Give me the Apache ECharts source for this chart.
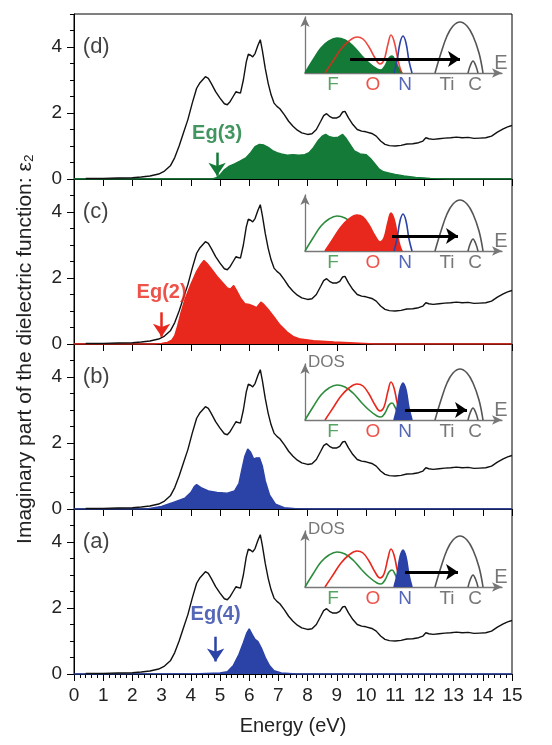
<!DOCTYPE html>
<html><head><meta charset="utf-8">
<script src="https://cdn.jsdelivr.net/npm/echarts@6/dist/echarts.min.js"></script>
<style>html,body{margin:0;padding:0;background:#fff}#c{width:552px;height:745px}</style>
</head><body><div id="c"></div>
<script>
// ---------- data ----------
const energyRange = [0, 15];
const yTickLabels = [0, 2, 4];
// total epsilon_2 (black curve, identical in every panel)
const totalEps2 = [[0.4,0.02],[1.0,0.02],[1.5,0.03],[2.0,0.04],[2.3,0.06],[2.6,0.09],[2.9,0.15],[3.1,0.24],[3.3,0.4],[3.45,0.65],[3.6,1.0],[3.75,1.4],[3.9,1.8],[4.05,2.3],[4.2,2.75],[4.3,2.9],[4.4,3.0],[4.5,3.1],[4.6,3.05],[4.7,2.9],[4.85,2.65],[5.0,2.45],[5.15,2.28],[5.25,2.25],[5.35,2.35],[5.45,2.5],[5.55,2.65],[5.62,2.62],[5.7,2.6],[5.8,3.0],[5.9,3.55],[5.97,3.78],[6.05,3.75],[6.12,3.7],[6.2,3.8],[6.3,4.05],[6.38,4.22],[6.45,3.9],[6.55,3.35],[6.65,2.9],[6.75,2.55],[6.85,2.3],[6.95,2.2],[7.05,2.13],[7.2,1.95],[7.35,1.75],[7.5,1.6],[7.65,1.48],[7.8,1.4],[8.0,1.35],[8.15,1.37],[8.3,1.5],[8.45,1.75],[8.55,1.92],[8.65,1.98],[8.75,1.9],[8.85,1.85],[9.0,1.85],[9.1,1.9],[9.2,2.03],[9.28,2.05],[9.4,1.85],[9.55,1.65],[9.7,1.5],[9.85,1.45],[10.0,1.43],[10.2,1.38],[10.35,1.3],[10.5,1.15],[10.65,1.05],[10.8,1.01],[11.0,1.0],[11.2,1.02],[11.4,1.06],[11.6,1.07],[11.8,1.1],[11.95,1.15],[12.05,1.25],[12.15,1.22],[12.3,1.2],[12.5,1.22],[12.7,1.24],[12.9,1.25],[13.1,1.27],[13.3,1.25],[13.5,1.26],[13.7,1.23],[13.9,1.24],[14.1,1.25],[14.3,1.3],[14.5,1.42],[14.7,1.52],[14.85,1.58],[15.0,1.62]];
// partial contributions (filled areas)
const partialD = [[0,0],[4.75,0],[4.85,0.03],[5.0,0.12],[5.15,0.28],[5.3,0.38],[5.5,0.46],[5.7,0.55],[5.9,0.65],[6.05,0.8],[6.2,0.98],[6.35,1.05],[6.5,1.03],[6.65,0.96],[6.8,0.86],[6.95,0.8],[7.1,0.76],[7.3,0.72],[7.5,0.74],[7.7,0.72],[7.9,0.74],[8.05,0.8],[8.2,0.95],[8.35,1.15],[8.5,1.3],[8.62,1.35],[8.75,1.28],[8.9,1.25],[9.05,1.27],[9.2,1.35],[9.3,1.25],[9.45,1.05],[9.6,0.85],[9.8,0.76],[10.0,0.74],[10.15,0.62],[10.3,0.46],[10.45,0.3],[10.6,0.22],[10.8,0.18],[11.0,0.14],[11.3,0.09],[11.7,0.05],[12.2,0.02],[12.8,0],[15,0]];
const partialC = [[0,0],[2.7,0],[3.0,0.02],[3.2,0.05],[3.35,0.12],[3.45,0.25],[3.55,0.55],[3.65,0.9],[3.8,1.35],[4.0,1.8],[4.2,2.2],[4.35,2.42],[4.45,2.53],[4.55,2.45],[4.7,2.28],[4.9,2.05],[5.1,1.85],[5.25,1.7],[5.35,1.66],[5.47,1.77],[5.55,1.65],[5.7,1.4],[5.85,1.22],[6.0,1.2],[6.15,1.15],[6.25,1.1],[6.4,1.27],[6.5,1.2],[6.65,1.05],[6.85,0.82],[7.05,0.58],[7.3,0.36],[7.5,0.23],[7.75,0.15],[8.2,0.1],[8.9,0.06],[9.6,0.03],[10.3,0],[15,0]];
const partialB = [[0,0],[2.5,0],[3.0,0.08],[3.4,0.2],[3.8,0.33],[4.0,0.5],[4.12,0.68],[4.2,0.74],[4.35,0.65],[4.6,0.55],[4.9,0.5],[5.25,0.48],[5.5,0.55],[5.65,0.78],[5.75,1.2],[5.85,1.6],[5.95,1.82],[6.05,1.72],[6.15,1.52],[6.25,1.55],[6.35,1.55],[6.45,1.3],[6.55,0.85],[6.7,0.42],[6.9,0.15],[7.2,0.04],[7.6,0.01],[8.2,0],[15,0]];
const partialA = [[0,0],[4.3,0.01],[5.0,0.03],[5.25,0.07],[5.45,0.25],[5.65,0.6],[5.8,0.95],[5.92,1.25],[6.0,1.37],[6.1,1.2],[6.2,1.05],[6.3,0.98],[6.42,0.78],[6.55,0.5],[6.7,0.25],[6.85,0.1],[7.1,0.03],[7.6,0],[15,0]];
const panelNames = ['(d)', '(c)', '(b)', '(a)'];
const gapNames = ['Eg(3)', 'Eg(2)', null, 'Eg(4)'];
const gapEnergy = [4.9, 3.0, null, 4.85];
const gapTextY = [1.37, 1.55, null, 1.79];
const gapArrowY = [[0.8, 0.1], [0.96, 0.22], null, [1.13, 0.38]];
// schematic DOS insets (arbitrary units)
const dosF = [[0,0],[8,13],[16,25],[24,32],[32,35],[40,33],[48,27],[56,18],[64,10],[72,4],[76,3],[80,7],[84,15],[87,17],[90,13],[94,4],[97,0]];
const dosO = [[20,0],[28,12],[36,24],[44,32],[52,36],[58,34],[64,26],[70,15],[75,9],[79,13],[83,29],[86,38],[89,32],[92,18],[95,5],[97,0]];
const dosN = [[89,0],[92,12],[95,30],[98,37],[101,30],[104,12],[107,0]];
const dosTi = [[130,0],[136,20],[142,37],[148,47],[155,51],[162,47],[168,37],[174,20],[178,0]];
const dosC = [[163,0],[165.5,8],[168,12],[170.5,8],[173,0]];
const dosLabels = ['F', 'O', 'N', 'Ti', 'C'];
const dosLabelX = [28, 68, 100, 142, 170];
const excitationArrows = [[45,155,14],[87,153,15],[100,162,10],[100,153,15]];
const filledState = ['F', 'O', 'N', 'N'];
const showDOS = [false, false, true, true];

// ---------- styling / layout ----------
const FONT = 'Liberation Sans, Arial, sans-serif';
const GREEN = '#137a37', RED = '#e8281c', BLUE = '#2b42a6', GRAY = '#555';
const LGREEN = '#2d8c3c';
const partials = [partialD, partialC, partialB, partialA];
const fillColors = [GREEN, RED, BLUE, BLUE];
const panelTops = [14, 179, 344, 509];
const PH = 165;
const insetBase = [73, 251, 420, 587];
const IH = 56;

const grid = [], xAxis = [], yAxis = [], series = [];
for (let p = 0; p < 4; p++) {
  grid.push({left: 74, right: 40, top: panelTops[p], height: PH, show: true, borderColor: '#000', borderWidth: 1, backgroundColor: 'transparent'});
}
for (let p = 0; p < 4; p++) {
  grid.push({left: 305, width: 197, top: insetBase[p] - IH, height: IH});
}
for (let p = 0; p < 4; p++) {
  const last = p === 3;
  xAxis.push({type: 'value', gridIndex: p, min: energyRange[0], max: energyRange[1], interval: 1,
    axisLine: {show: true, onZero: false, lineStyle: {color: '#000', width: 1}},
    axisTick: {show: true, inside: false, length: 7, lineStyle: {color: '#000', width: 1}},
    minorTick: {show: last, splitNumber: 5, length: 4, lineStyle: {color: '#000', width: 1}},
    axisLabel: {show: last, fontSize: 19, color: '#222', fontFamily: FONT, margin: 12},
    splitLine: {show: false}, minorSplitLine: {show: false},
    name: last ? 'Energy (eV)' : '', nameLocation: 'middle', nameGap: 42,
    nameTextStyle: {fontSize: 20, color: '#222', fontFamily: FONT}});
}
for (let p = 0; p < 4; p++) {
  xAxis.push({type: 'value', gridIndex: 4 + p, min: 0, max: 197, show: true,
    axisLine: {show: true, onZero: false, symbol: ['none', 'arrow'], symbolSize: [7, 10], lineStyle: {color: '#777', width: 1.3}},
    axisTick: {show: false}, axisLabel: {show: false}, splitLine: {show: false}});
}
for (let p = 0; p < 4; p++) {
  yAxis.push({type: 'value', gridIndex: p, position: 'left', min: 0, max: 5, interval: 0.5,
    axisLine: {show: true, lineStyle: {color: '#000', width: 1}},
    axisTick: {show: true, inside: false, length: 4, lineStyle: {color: '#000', width: 1}},
    axisLabel: {show: true, interval: 0, fontSize: 19, color: '#222', fontFamily: FONT, margin: 12,
      formatter: v => yTickLabels.indexOf(v) >= 0 ? String(v) : ''},
    splitLine: {show: false}});
}
for (let p = 0; p < 4; p++) {
  yAxis.push({type: 'value', gridIndex: p, position: 'left', min: 0, max: 5,
    axisLine: {show: false},
    axisTick: {show: true, inside: false, length: 7, customValues: yTickLabels, lineStyle: {color: '#000', width: 1}},
    axisLabel: {show: false}, splitLine: {show: false}});
}
for (let p = 0; p < 4; p++) {
  yAxis.push({type: 'value', gridIndex: 4 + p, min: 0, max: IH,
    axisLine: {show: true, onZero: false, symbol: ['none', 'arrow'], symbolSize: [7, 10], lineStyle: {color: '#777', width: 1.3}},
    axisTick: {show: false}, axisLabel: {show: false}, splitLine: {show: false}});
}

for (let p = 0; p < 4; p++) {
  const col = fillColors[p];
  const fill = {type: 'line', xAxisIndex: p, yAxisIndex: p, data: partials[p], symbol: 'none', smooth: false,
    lineStyle: {color: col, width: 1.4}, areaStyle: {color: col, opacity: 1}, z: 2, silent: true};
  if (gapNames[p]) {
    fill.markLine = {silent: true, symbol: ['none', 'arrow'], symbolSize: 13, label: {show: false},
      lineStyle: {color: col, width: 2.5, type: 'solid'},
      data: [[{coord: [gapEnergy[p], gapArrowY[p][0]]}, {coord: [gapEnergy[p], gapArrowY[p][1]]}]]};
  }
  series.push(fill);
  series.push({type: 'line', xAxisIndex: p, yAxisIndex: p, data: totalEps2, symbol: 'none',
    lineStyle: {color: '#111', width: 1.4}, z: 3, silent: true});
  const ann = [{value: [0.3, 4.0], label: {show: true, formatter: panelNames[p], position: 'right', distance: 0,
    fontSize: 22, color: '#111', fontFamily: FONT}}];
  if (gapNames[p]) ann.push({value: [gapEnergy[p], gapTextY[p]], label: {show: true, formatter: gapNames[p], position: 'inside',
    fontSize: 20, fontWeight: 'bold', color: col, fontFamily: FONT}});
  series.push({type: 'scatter', xAxisIndex: p, yAxisIndex: p, data: ann, symbolSize: 0.1,
    itemStyle: {color: 'transparent'}, z: 5, silent: true});
}

// insets
const dosShapes = {F: dosF, O: dosO, N: dosN};
const dosColors = {F: LGREEN, O: RED, N: BLUE};
const dosFill = {F: GREEN, O: RED, N: BLUE};
for (let p = 0; p < 4; p++) {
  const xi = 4 + p, yi = 8 + p;
  ['F', 'O', 'N'].forEach((k) => {
    const filled = filledState[p] === k;
    series.push({type: 'line', xAxisIndex: xi, yAxisIndex: yi, data: dosShapes[k], symbol: 'none', smooth: 0.4,
      lineStyle: {color: filled ? dosFill[k] : dosColors[k], width: 1.6, opacity: (!filled && filledState[p] === 'F' && k === 'O') ? 0.85 : 1},
      areaStyle: filled ? {color: dosFill[k], opacity: 1} : undefined,
      z: filled ? (k === 'N' ? 6 : 4) : (k === 'N' ? 5 : (filledState[p] === 'F' ? 5 : 3)), silent: true});
  });
  series.push({type: 'line', xAxisIndex: xi, yAxisIndex: yi, data: dosTi, symbol: 'none', smooth: 0.4,
    lineStyle: {color: GRAY, width: 1.6}, z: 4, silent: true});
  series.push({type: 'line', xAxisIndex: xi, yAxisIndex: yi, data: dosC, symbol: 'none', smooth: 0.4,
    lineStyle: {color: GRAY, width: 1.6}, z: 4, silent: true,
    markLine: {silent: true, symbol: ['none', 'arrow'], symbolSize: 12, label: {show: false}, z: 10,
      lineStyle: {color: '#000', width: 3, type: 'solid'},
      data: [[{coord: [excitationArrows[p][0], excitationArrows[p][2]]}, {coord: [excitationArrows[p][1], excitationArrows[p][2]]}]]}});
  const labelColors = [LGREEN, RED, BLUE, GRAY, GRAY];
  const lab = dosLabels.map((t, i) => ({value: [dosLabelX[i], -12], label: {show: true, formatter: t, position: 'inside',
    fontSize: 19, color: labelColors[i], fontFamily: FONT}}));
  lab.push({value: [196, 10], label: {show: true, formatter: 'E', position: 'inside', fontSize: 20, color: GRAY, fontFamily: FONT}});
  if (showDOS[p]) lab.push({value: [3, 58], label: {show: true, formatter: 'DOS', position: 'right', distance: 0, fontSize: 17, color: '#555', fontFamily: FONT}});
  series.push({type: 'scatter', xAxisIndex: xi, yAxisIndex: yi, data: lab, symbolSize: 0.1, clip: false,
    itemStyle: {color: 'transparent'}, z: 8, silent: true});
}

const chart = echarts.init(document.getElementById('c'), null, {renderer: 'canvas'});
chart.setOption({
  animation: false,
  backgroundColor: '#fff',
  grid, xAxis, yAxis, series,
  graphic: [{type: 'text', x: 25, y: 349, rotation: Math.PI / 2,
    style: {text: 'Imaginary part of the dielectric function: ε₂', fontSize: 21, fontFamily: FONT, fill: '#222',
      align: 'center', verticalAlign: 'middle'}}]
});
</script></body></html>
